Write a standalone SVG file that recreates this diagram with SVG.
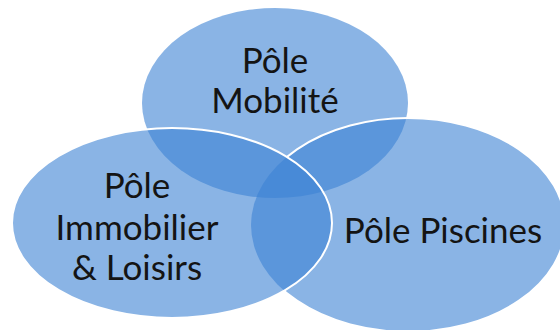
<svg xmlns="http://www.w3.org/2000/svg" width="560" height="330" viewBox="0 0 560 330">
  <style>
    .disc { fill: #3c82d4; fill-opacity: 0.6; stroke: none; }
    .edge { fill: none; stroke: #ffffff; stroke-width: 2; }
    .label { font-family: Lato, "Open Sans", "Liberation Sans", sans-serif; font-size: 35px; fill: #141414; text-anchor: middle; }
  </style>
  <defs>
    <clipPath id="outsideLeft" clipPathUnits="userSpaceOnUse">
      <path clip-rule="evenodd" d="M0 0H560V330H0Z M12 223A160 95 0 1 0 332 223A160 95 0 1 0 12 223Z"/>
    </clipPath>
  </defs>
  <rect width="560" height="330" fill="#ffffff"/>
  <g id="pole-mobilite">
    <ellipse class="disc" cx="275" cy="103" rx="133" ry="95"/>
    <text class="label" x="275" y="73">Pôle</text>
    <text class="label" x="275" y="113">Mobilité</text>
  </g>
  <g id="pole-piscines">
    <ellipse class="disc" cx="408" cy="225" rx="157" ry="107"/>
    <ellipse class="edge" cx="408" cy="225" rx="157" ry="107" clip-path="url(#outsideLeft)"/>
    <text class="label" x="443" y="243">Pôle Piscines</text>
  </g>
  <g id="pole-immobilier-loisirs">
    <ellipse class="disc" cx="172" cy="223" rx="160" ry="95"/>
    <ellipse class="edge" cx="172" cy="223" rx="160" ry="95"/>
    <text class="label" x="137" y="198">Pôle</text>
    <text class="label" x="137" y="240">Immobilier</text>
    <text class="label" x="137" y="280">&amp; Loisirs</text>
  </g>
  <g id="connectors"/>
</svg>
